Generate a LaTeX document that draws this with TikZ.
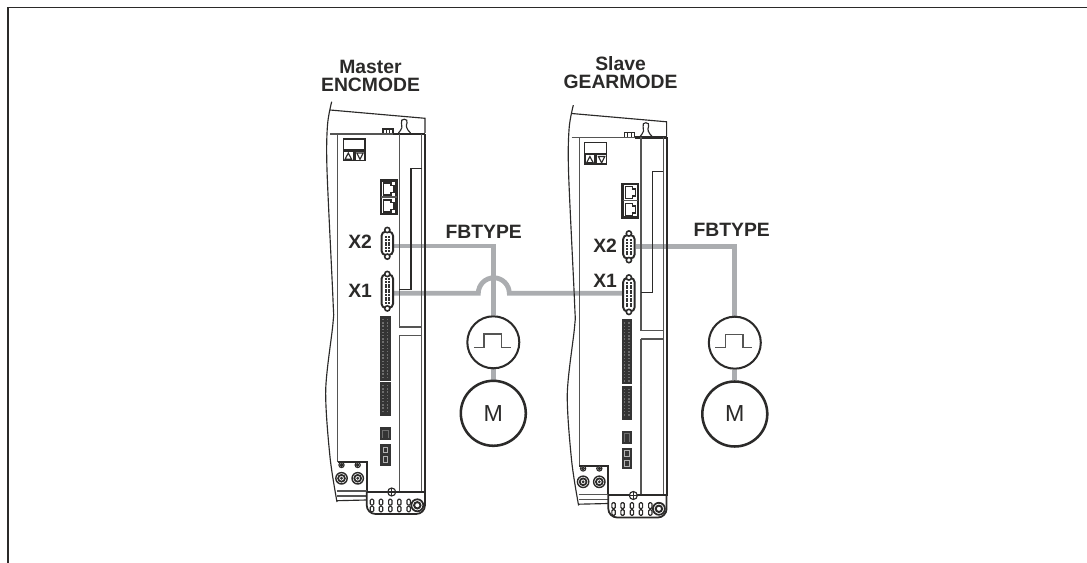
\documentclass[tikz,border=0pt]{standalone}
\usepackage{fontspec}
\setmainfont{Liberation Sans}
\usetikzlibrary{backgrounds,positioning}
\definecolor{driveline}{HTML}{2B2A29}
\definecolor{cablegray}{HTML}{ABADB0}
\definecolor{blockgray}{HTML}{343434}
\definecolor{pingray}{HTML}{6E6E6E}

\tikzset{
    hair/.style={draw=driveline,line width=0.65pt},
    heavy/.style={draw=driveline,line width=1.2pt},
    soft/.style={draw=driveline!80,line width=0.9pt},
    pinblock/.style={fill=blockgray,draw=none},
    pin/.style={fill=pingray,draw=none},
    dsub/.style={
        draw=driveline,
        fill=white,
        rounded corners=2.4pt,
        line width=1.1pt,
        minimum width=0.23cm,
        inner sep=0pt
    },
    ear/.style={draw=driveline,fill=white,line width=0.9pt},
    drive/.pic={
        % Housing outline
        \draw[hair] plot[smooth] coordinates {(331.7,101.7) (327.5,125) (327,170) (333,300) (333,323) (325.7,390) (330,457) (337,502)};
        \draw[hair] (330,110) -- (425,118.3) -- (425,133);
        \draw[hair] (398.5,133) .. controls (402,129) and (403,126) .. (401.5,123)
            .. controls (399.5,118) and (409,118) .. (407,123)
            .. controls (405.5,126) and (406.5,129) .. (410.5,133);
        \draw[hair] (383,134) -- (383,129) -- (393,129) -- (393,134);
        \draw[hair] (386.3,129) -- (386.3,134) (389.6,129) -- (389.6,134);
        \draw[soft] (330,134) -- (393,134);
        \draw[heavy] (393,134) -- (425,134);
        % Front panel
        \draw[soft] (337.7,134) -- (337.7,462);
        \draw[soft] (399.3,134) -- (399.3,327) -- (421.7,327);
        \draw[soft] (399.3,335.7) -- (421.7,335.7) (399.3,335.7) -- (399.3,491.7);
        \draw[soft] (421.7,134) -- (421.7,492);
        \draw[heavy] (425,134) -- (425,492.7);
        \draw[hair] (421.7,168.3) -- (411,168.3) -- (411,289.3) -- (399.3,289.3);
        % Display and buttons
        \draw[hair] (343.3,139) rectangle (365,150);
        \draw[heavy,line width=0.9pt] (343.3,151) rectangle (353.3,160.7);
        \draw[heavy,line width=0.9pt] (355,151) rectangle (365,160.7);
        \draw[hair] (345,159.3) -- (348.3,153) -- (351.6,159.3) -- cycle;
        \draw[hair] (356.8,153) -- (360,159.3) -- (363.2,153) -- cycle;
        % Network ports
        \draw[heavy,line width=1.5pt,fill=white] (381,180.5) rectangle (396.5,214);
        \draw[soft] (381,197) -- (396.5,197);
        \foreach \py in {183,200} {
            \draw[hair] (383.5,\py) -- (391,\py) -- (391,\py+2.5) -- (394,\py+2.5) -- (394,\py+9.5)
                -- (391,\py+9.5) -- (391,\py+12) -- (383.5,\py+12) -- cycle;
        }
        % Feedback connectors
        \node[dsub,minimum height=0.47cm] (X2) at (387.3,243.3) {};
        \draw[ear] (387.3,230) circle[radius=2.6];
        \draw[ear] (387.3,256.6) circle[radius=2.6];
        \foreach \py in {236,238.8,...,251} {
            \fill[blockgray] (384.6,\py) rectangle +(2.2,2);
            \fill[blockgray] (387.9,\py) rectangle +(2.2,2);
        }
        \node[dsub,minimum height=0.67cm] (X1) at (387.3,291.2) {};
        \draw[ear] (387.3,274) circle[radius=2.6];
        \draw[ear] (387.3,308.4) circle[radius=2.6];
        \foreach \py in {278.5,281.1,...,303} {
            \fill[blockgray] (384.6,\py) rectangle +(2.2,2);
            \fill[blockgray] (387.9,\py) rectangle +(2.2,2);
        }
        % Terminal blocks
        \fill[pinblock] (380,316) rectangle (390.7,380.7);
        \fill[pinblock] (380,382.3) rectangle (390.7,416);
        \fill[pinblock] (380,427.3) rectangle (390.7,440);
        \fill[pinblock] (380,444) rectangle (390.7,465.7);
        \foreach \py in {319,322.2,...,377} {
            \fill[pin] (382,\py) rectangle +(1.6,1.4);
            \fill[pin] (386.5,\py) rectangle +(1.6,1.4);
        }
        \foreach \py in {385,388.2,...,413} {
            \fill[pin] (382,\py) rectangle +(1.6,1.4);
            \fill[pin] (386.5,\py) rectangle +(1.6,1.4);
        }
        \draw[pingray,line width=0.4pt] (382.5,438) |- (388,430) -- (388,438);
        \draw[white!70!black,line width=0.5pt] (383,447) rectangle (387.5,452.5);
        \draw[white!70!black,line width=0.5pt] (383,456.5) rectangle (387.5,462.5);
        % Mains terminals, lower left
        \draw[heavy] (337.7,462.3) -- (366.7,462.3) -- (366.7,491.7);
        \foreach \px in {341.5,357.7} {
            \draw[hair,fill=white] (\px,465) circle[radius=2.6];
            \draw[hair] (\px,465) circle[radius=1.2];
            \draw[heavy,line width=0.8pt] (\px,478.3) circle[radius=5.7];
            \draw[heavy,line width=1pt] (\px,478.3) circle[radius=3.4];
            \fill[blockgray] (\px,478.3) circle[radius=1.6];
        }
        \draw[heavy,line width=0.7pt] (337.7,462.3) -- (366.7,462.3);
        \draw[soft] (337,491) -- (366.7,491);
        \draw[soft] (337,496) -- (366.7,496);
        \draw[hair] (337,500.7) -- (366.7,500);
        % Foot
        \draw[heavy,line width=1pt,rounded corners=5pt] (366.7,491.7) -- (366.7,514) -- (425,514) -- (425,491.7);
        \draw[heavy,line width=1pt] (366.7,491.7) -- (425,491.7);
        \foreach \px in {372,381,390.3,399.3,408.7} {
            \draw[hair,rounded corners=0.6pt] (\px-1.7,499.3) rectangle (\px+1.7,505);
            \draw[hair,rounded corners=0.6pt] (\px-1.7,506.3) rectangle (\px+1.7,511.7);
        }
        \draw[heavy,line width=1pt,fill=white] (417.3,505.3) circle[radius=6];
        \draw[heavy,line width=1.1pt] (417.3,505.3) circle[radius=3.2];
        \draw[hair,fill=white] (391.7,492) circle[radius=4];
        \draw[hair] (387.7,492) -- (395.7,492) (391.7,488) -- (391.7,496);
    },
    pulse/.pic={
        \draw[soft] (-19.4,5) -- (-9.4,5) -- (-9.4,-8.3) -- (8,-8.3) -- (8,5) -- (17.3,5);
    }
}

\begin{document}
\begin{tikzpicture}[
    x=0.02cm,
    y=-0.02cm,
    title/.style={font=\bfseries\fontsize{11}{10.6}\selectfont,align=center,text=driveline,inner sep=0pt},
    port/.style={font=\bfseries\fontsize{11}{12}\selectfont,anchor=base east,text=driveline,inner sep=0pt},
    feedback/.style={font=\bfseries\fontsize{11}{12}\selectfont,anchor=base,text=driveline,inner sep=0pt},
    encoder/.style={circle,draw=driveline,fill=white,line width=1.15pt,minimum size=1.04cm,inner sep=0pt},
    motor/.style={circle,draw=driveline,fill=white,line width=1.45pt,minimum size=1.3cm,inner sep=0pt,
        font=\fontsize{13.2}{14}\selectfont,text=driveline},
    cable/.style={cablegray,line width=2.75pt}
]
\useasboundingbox (0,0) rectangle (1087,563);

% Frame
\draw[driveline,line width=0.75pt] (8,563) -- (8,7.5) -- (1087,7.5);

% Both drives
\pic (master) at (0,0) {drive};
\pic (slave) at (241.6,3.5) {drive};

% Captions
\node[title,anchor=base] (mastertitle) at (370.5,91.7) {Master\\ENCMODE};
\node[title,anchor=base] (slavetitle) at (620.5,89) {Slave\\GEARMODE};

% Port labels
\node[port] (masterlabeltwo) at (372.3,248.3) {X2};
\node[port] (masterlabelone) at (372.3,297.3) {X1};
\node[port] (slavelabeltwo) at (617.3,252.7) {X2};
\node[port] (slavelabelone) at (617.3,287.7) {X1};

\node[feedback] (masterfb) at (483.7,238.3) {FBTYPE};
\node[feedback] (slavefb) at (731.7,236.7) {FBTYPE};

% Encoders and motors
\node[encoder] (masterenc) at (493.3,342.3) {};
\pic at (masterenc) {pulse};
\node[motor] (mastermotor) at (493.3,413.3) {M};
\node[encoder] (slaveenc) at (734.8,342.7) {};
\pic at (slaveenc) {pulse};
\node[motor] (slavemotor) at (734.8,414) {M};

\coordinate (hopin) at (478.3,293.3);

% Cables run behind the drives
\begin{pgfonlayer}{background}
\draw[cable] ([yshift=-1.5pt]masterX2.east) -| (masterenc.north);
\draw[cable] (slaveX2.east) -| (slaveenc.north);
\draw[cable] (masterenc.south) -- (mastermotor.north);
\draw[cable] (slaveenc.south) -- (slavemotor.north);
\draw[cable] (masterX1.east |- hopin) -- (hopin)
    arc[start angle=180,end angle=360,radius=15.5]
    -- (slaveX1.west |- hopin);
\end{pgfonlayer}

\end{tikzpicture}
\end{document}
